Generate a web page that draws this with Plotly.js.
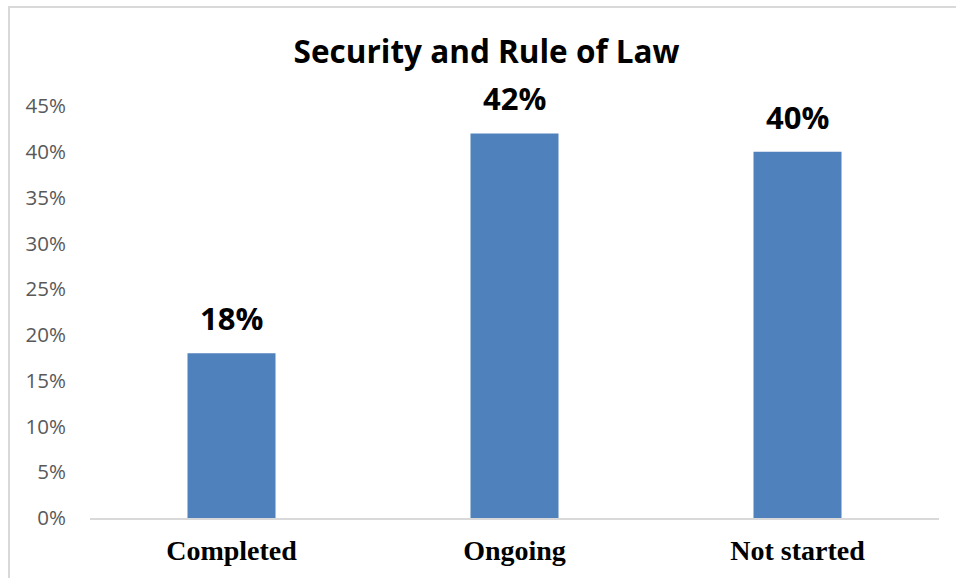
<!DOCTYPE html>
<html>
<head>
<meta charset="utf-8">
<script src="https://cdn.plot.ly/plotly-3.0.1.min.js"></script>
<style>
html,body{margin:0;padding:0;background:#fff;}
#wrap{position:relative;width:956px;height:578px;}
#chart{width:956px;height:578px;}
#frame{position:absolute;left:8px;top:6px;width:960px;height:600px;border-left:2px solid #d9d9d9;border-top:2px solid #d9d9d9;pointer-events:none;}
</style>
</head>
<body>
<div id="wrap"><div id="chart"></div><div id="frame"></div></div>
<script>
var categories = ["Completed", "Ongoing", "Not started"];
var values = [18, 42, 40];
var valueLabels = ["18%", "42%", "40%"];
var tickValues = [0, 5, 10, 15, 20, 25, 30, 35, 40, 45];
var tickLabels = ["0%", "5%", "10%", "15%", "20%", "25%", "30%", "35%", "40%", "45%"];

var trace = {
  type: "bar",
  x: categories,
  y: values,
  marker: {color: "#4f81bd", line: {width: 0}},
  hoverinfo: "none"
};

var annotations = categories.map(function(c, i){
  return {
    x: c, y: values[i], xref: "x", yref: "y",
    text: valueLabels[i], showarrow: false,
    yanchor: "bottom", yshift: 12,
    font: {family: "'Open Sans', sans-serif", size: 31, color: "#000", weight: "bold"}
  };
});

var layout = {
  width: 956, height: 578,
  margin: {l: 90, r: 17, t: 106, b: 60},
  paper_bgcolor: "#fff", plot_bgcolor: "#fff",
  showlegend: false,
  bargap: 0.689,
  title: {
    text: "<b>Security and Rule of Law</b>",
    x: 0.509, xanchor: "center", y: 0.91, yanchor: "middle",
    font: {family: "'Open Sans', sans-serif", size: 31.5, color: "#000"}
  },
  xaxis: {
    type: "category",
    showline: true, linecolor: "#d9d9d9", linewidth: 2,
    ticks: "", showgrid: false, zeroline: false,
    tickfont: {family: "'Liberation Serif', 'Times New Roman', serif", size: 28, color: "#000", weight: "bold"},
    ticklabelstandoff: 6
  },
  yaxis: {
    range: [0, 45],
    tickvals: tickValues, ticktext: tickLabels,
    showline: false, showgrid: false, zeroline: false, ticks: "",
    tickfont: {family: "'Open Sans', sans-serif", size: 20.5, color: "#595959"},
    ticklabelstandoff: 23
  },
  annotations: annotations
};

Plotly.newPlot("chart", [trace], layout, {displayModeBar: false, staticPlot: true});
</script>
</body>
</html>
